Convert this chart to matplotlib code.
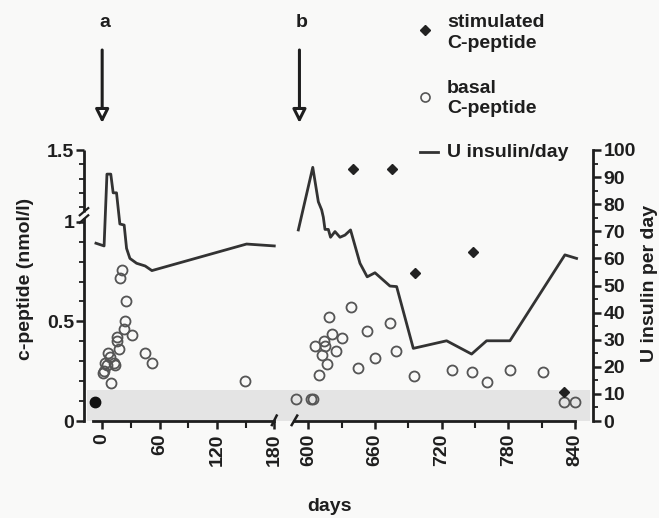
import numpy as np
import matplotlib
matplotlib.use('Agg')
import matplotlib.pyplot as plt
from matplotlib.ticker import FixedLocator, FuncFormatter, NullLocator

# ---------------- data ----------------
# panel a (days -10 .. 180)
basal_a_day = [1, 2, 3, 5, 6, 8, 9, 12, 13, 15, 16, 18, 19, 21, 23, 24, 25, 31, 45, 52, 149]
basal_a_cpep = [0.24, 0.25, 0.29, 0.28, 0.34, 0.32, 0.19, 0.29, 0.28, 0.40, 0.42, 0.36,
                0.72, 0.76, 0.46, 0.50, 0.60, 0.43, 0.34, 0.29, 0.20]
stim_a_day = [-7]
stim_a_cpep = [0.097]
insulin_a_day = [-6.5, 2, 5, 9, 11.5, 15, 18.5, 23, 25.5, 29, 36, 45, 52, 151, 180]
insulin_a_units = [65.6, 64.6, 91.1, 91.1, 84.2, 84.2, 72.7, 72.3, 63.7, 60.0, 58.2, 57.2,
                   55.5, 65.3, 64.6]

# panel b (days ~588 .. 840)
basal_b_day = [589, 602, 604.5, 606, 610, 612, 614, 615, 616.5, 619, 621, 625, 630, 638, 645,
               653, 660, 673.5, 679, 695, 729, 747, 760.5, 781.5, 811, 830, 840]
basal_b_cpep = [0.109, 0.109, 0.109, 0.374, 0.231, 0.332, 0.399, 0.377, 0.286, 0.524, 0.437,
                0.353, 0.415, 0.574, 0.265, 0.454, 0.315, 0.491, 0.353, 0.226, 0.256, 0.245,
                0.194, 0.256, 0.245, 0.097, 0.097]
stim_b_day = [640.5, 675, 696, 748, 830]
stim_b_cpep = [1.37, 1.37, 0.745, 0.846, 0.147]
insulin_b_day = [591, 604, 609, 612, 613.5, 615, 618, 620, 624, 628.5, 633, 638, 646.5, 653,
                 660, 673.5, 679.5, 694.5, 724.5, 747, 760.5, 781.5, 831, 841.5]
insulin_b_units = [70.5, 93.6, 80.9, 77.9, 75.2, 70.7, 70.7, 67.8, 69.9, 67.8, 68.6, 70.5, 58.2,
                   53.2, 54.7, 49.8, 49.6, 26.8, 29.6, 24.7, 29.6, 29.6, 61.3, 60.0]

cpep_ticks = [0, 0.5, 1, 1.5]
insulin_ticks = list(range(0, 101, 10))
xticks_a = [0, 60, 120, 180]
xticks_b = [600, 660, 720, 780, 840]

# ---------------- style ----------------
plt.rcParams['font.family'] = ['Liberation Sans', 'DejaVu Sans']
plt.rcParams['font.weight'] = 'bold'
BG = '#f9f9f8'
INK = '#1e1e1e'
LINE = '#333333'
CIRC = '#555555'
BAND = '#e4e4e4'
FS = 14

W, H = 659, 518
fig = plt.figure(figsize=(W / 100, H / 100), dpi=100, facecolor=BG)

bottom = (H - 421) / H
height = 271 / H
ax1 = fig.add_axes([84 / W, bottom, 192.2 / W, height])
ax2 = fig.add_axes([293 / W, bottom, 300 / W, height])

K = 0.72


def fwd(c):
    c = np.asarray(c, float)
    return np.where(c <= 1, c, 1 + (c - 1) * K)


def inv(f):
    f = np.asarray(f, float)
    return np.where(f <= 1, f, 1 + (f - 1) / K)


fmt = FuncFormatter(lambda v, p: '%g' % v)

for ax in (ax1, ax2):
    ax.set_facecolor('none')
    ax.set_yscale('function', functions=(fwd, inv))
    ax.set_ylim(0, 1.5)
    for s in ('top', 'right'):
        ax.spines[s].set_visible(False)
    ax.spines['bottom'].set_linewidth(2)
    ax.spines['bottom'].set_color(INK)
    ax.tick_params(axis='x', which='major', length=6, width=1.8, pad=3, labelsize=FS,
                   labelrotation=90, colors=INK)
    ax.tick_params(axis='x', which='minor', length=5, width=1.5, colors=INK)

ax1.set_xlim(-19, 182)
ax2.set_xlim(586.2, 856.3)
ax1.spines['bottom'].set_bounds(-10, 180)
ax2.spines['bottom'].set_bounds(587, 840)
ax1.xaxis.set_major_locator(FixedLocator(xticks_a))
ax1.xaxis.set_minor_locator(FixedLocator([30, 90, 150]))
ax2.xaxis.set_major_locator(FixedLocator(xticks_b))
ax2.xaxis.set_minor_locator(FixedLocator([630, 690, 750, 810]))

# left c-peptide axis
ax1.spines['left'].set_bounds(0, 1.02)
ax1.spines['left'].set_linewidth(2)
ax1.spines['left'].set_color(INK)
ax1.yaxis.set_major_locator(FixedLocator(cpep_ticks))
ax1.yaxis.set_major_formatter(fmt)
ax1.yaxis.set_minor_locator(FixedLocator([0.1, 0.2, 0.3, 0.4, 0.6, 0.7, 0.8, 0.9,
                                          1.1, 1.2, 1.3, 1.4]))
ax1.tick_params(axis='y', which='major', length=6, width=1.8, pad=1, labelsize=FS, colors=INK)
ax1.tick_params(axis='y', which='minor', length=3.5, width=1.3, colors=INK)
ytr = ax1.get_yaxis_transform()
ax1.plot([0, 0], [1.07, 1.5], transform=ytr, color=INK, lw=2, clip_on=False,
         solid_capstyle='butt')
for yb in (1.02, 1.07):
    ax1.plot([-0.022, 0.022], [yb - 0.025, yb + 0.025], transform=ytr, color=INK, lw=1.6,
             clip_on=False)

ax2.spines['left'].set_visible(False)
ax2.yaxis.set_major_locator(NullLocator())
ax2.yaxis.set_minor_locator(NullLocator())
ax2.tick_params(axis='y', which='both', left=False, right=False, labelleft=False)

# x-axis break slashes
xtr1 = ax1.get_xaxis_transform()
ax1.plot([177.5, 182.5], [-0.015, 0.02], transform=xtr1, color=INK, lw=1.8, clip_on=False)
xtr2 = ax2.get_xaxis_transform()
ax2.plot([585, 590], [-0.015, 0.02], transform=xtr2, color=INK, lw=1.8, clip_on=False)

# shaded band
ax1.axhspan(0, 0.155, xmin=0.015, xmax=1.09, color=BAND, lw=0, zorder=0, clip_on=False)
ax2.axhspan(0, 0.155, xmin=0, xmax=0.99, color=BAND, lw=0, zorder=0)

# twin axes for insulin
ax1u = ax1.twinx()
ax2u = ax2.twinx()
for ax in (ax1u, ax2u):
    ax.set_ylim(0, 100)
    for s in ax.spines.values():
        s.set_visible(False)
ax1u.yaxis.set_major_locator(NullLocator())
ax1u.yaxis.set_minor_locator(NullLocator())
ax1u.tick_params(axis='y', which='both', left=False, right=False, labelright=False,
                 labelleft=False)
ax2u.spines['right'].set_visible(True)
ax2u.spines['right'].set_linewidth(2)
ax2u.spines['right'].set_color(INK)
ax2u.yaxis.set_major_locator(FixedLocator(insulin_ticks))
ax2u.yaxis.set_minor_locator(FixedLocator(list(range(5, 100, 10))))
ax2u.tick_params(axis='y', which='major', length=6, width=1.8, pad=1.5, labelsize=FS,
                 colors=INK)
ax2u.tick_params(axis='y', which='minor', length=3.5, width=1.3, colors=INK)
ax2u.tick_params(axis='y', which='both', left=False, labelleft=False, right=True,
                 labelright=True)

# marks
mk_open = dict(ls='none', marker='o', ms=7.2, mfc='none', mec=CIRC, mew=1.3)
ax1.plot(basal_a_day, basal_a_cpep, clip_on=False, **mk_open)
ax2.plot(basal_b_day, basal_b_cpep, clip_on=False, **mk_open)
ax1.plot(stim_a_day, stim_a_cpep, ls='none', marker='o', ms=7.5, mfc='#111111', mec='#111111',
         clip_on=False)
ax2.plot(stim_b_day, stim_b_cpep, ls='none', marker='D', ms=5, mfc='#222222', mec='#222222',
         clip_on=False)
ax1u.plot(insulin_a_day, insulin_a_units, color=LINE, lw=2, clip_on=False)
ax2u.plot(insulin_b_day, insulin_b_units, color=LINE, lw=2, clip_on=False)

# arrows and panel letters
arrow = dict(arrowstyle='-|>', lw=2.2, color=INK, fc='white', mutation_scale=20,
             shrinkA=0, shrinkB=0)
ax1.annotate('', xy=(0, 1.0996), xytext=(0, 1.369), xycoords=('data', 'axes fraction'),
             textcoords=('data', 'axes fraction'), arrowprops=arrow, annotation_clip=False)
ax2.annotate('', xy=(592, 1.0996), xytext=(592, 1.369), xycoords=('data', 'axes fraction'),
             textcoords=('data', 'axes fraction'), arrowprops=arrow, annotation_clip=False)
fig.text(105 / W, 1 - 27 / H, 'a', ha='center', va='baseline', fontsize=FS, color=INK)
fig.text(302 / W, 1 - 27 / H, 'b', ha='center', va='baseline', fontsize=FS, color=INK)

# legend (manual)
fig.add_artist(plt.Line2D([425 / W], [1 - 30 / H], marker='D', ms=5, mfc='#222222',
                          mec='#222222', ls='none'))
fig.add_artist(plt.Line2D([425 / W], [1 - 97 / H], marker='o', ms=6.5, mfc='none',
                          mec=CIRC, mew=1.2, ls='none'))
fig.add_artist(plt.Line2D([420 / W, 438 / W], [1 - 152 / H, 1 - 152 / H], color=LINE, lw=2))
for txt, yb in (('stimulated', 26.7), ('C-peptide', 48.3), ('basal', 92.7),
                ('C-peptide', 113.3), ('U insulin/day', 157)):
    fig.text(447 / W, 1 - yb / H, txt, ha='left', va='baseline', fontsize=FS, color=INK)

# axis titles
fig.text(26 / W, 1 - 279 / H, 'c-peptide (nmol/l)', rotation=90, ha='center', va='center',
         fontsize=FS, color=INK)
fig.text(649 / W, 1 - 283 / H, 'U insulin per day', rotation=90, ha='center', va='center',
         fontsize=FS, color=INK)
fig.text(330 / W, 1 - 511 / H, 'days', ha='center', va='baseline', fontsize=FS, color=INK)

fig.savefig('out.png', dpi=100, facecolor=BG)
